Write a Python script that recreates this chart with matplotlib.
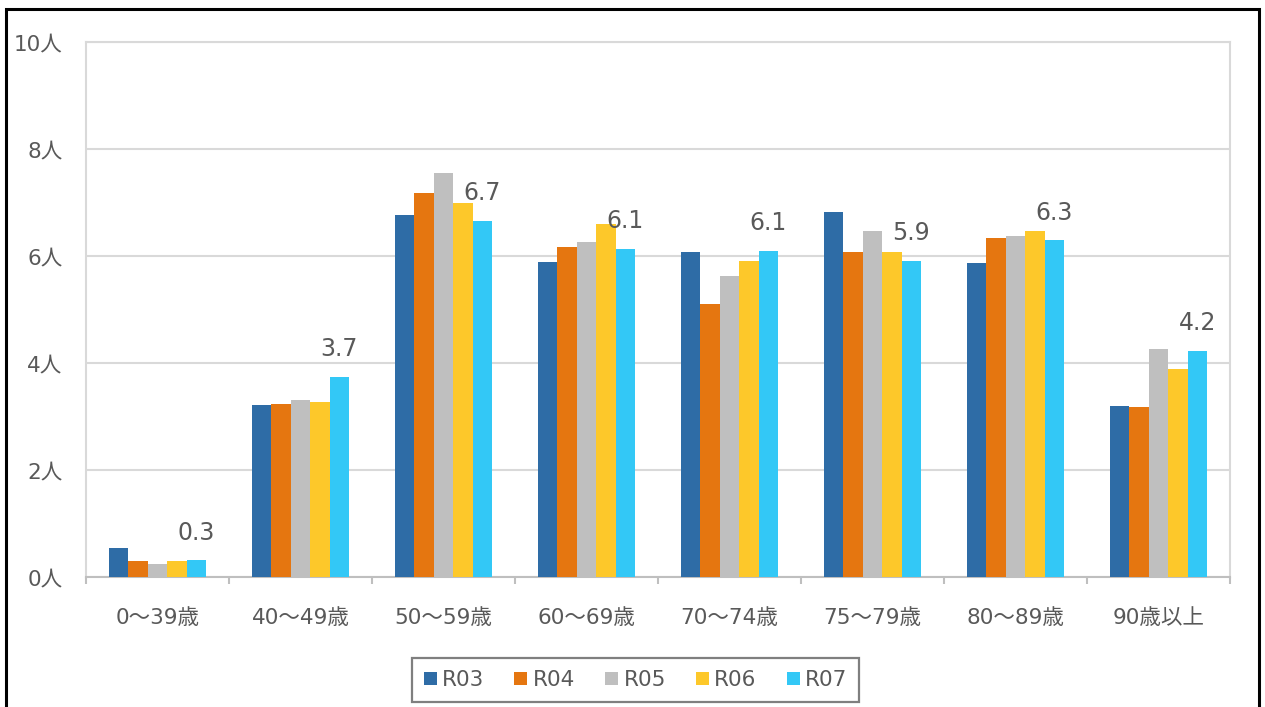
import matplotlib
matplotlib.use('Agg')
from matplotlib import pyplot as plt
from matplotlib.patches import Rectangle
import numpy as np

plt.rcParams['font.family'] = ['DejaVu Sans', 'Noto Sans CJK JP']

categories = ['0～39歳', '40～49歳', '50～59歳', '60～69歳', '70～74歳', '75～79歳', '80～89歳', '90歳以上']
series = ['R03', 'R04', 'R05', 'R06', 'R07']
r03 = [0.55, 3.21, 6.76, 5.88, 6.07, 6.83, 5.86, 3.20]
r04 = [0.29, 3.23, 7.18, 6.16, 5.10, 6.07, 6.34, 3.17]
r05 = [0.24, 3.31, 7.55, 6.26, 5.63, 6.46, 6.37, 4.27]
r06 = [0.29, 3.27, 7.00, 6.60, 5.91, 6.07, 6.46, 3.88]
r07 = [0.31, 3.74, 6.66, 6.13, 6.09, 5.91, 6.29, 4.23]
y_ticks = [0, 2, 4, 6, 8, 10]

colors = ['#2e6ca6', '#e57610', '#bfbfbf', '#fdc82a', '#33c8f6']
txt = '#595959'
grid = '#d9d9d9'

fig = plt.figure(figsize=(12.65, 7.07), dpi=100)
ax = fig.add_axes([86/1265, 130/707, 1144/1265, 535/707])

x = np.arange(len(categories))
w = 0.136
data = [r03, r04, r05, r06, r07]
for i, vals in enumerate(data):
    ax.bar(x + (i - 2) * w, vals, w, color=colors[i], label=series[i], zorder=3)

# labels above the R07 bars
for xi, v in zip(x, r07):
    ax.annotate('{:.1f}'.format(v), (xi + 2 * w, v), xytext=(0, 15),
                textcoords='offset points', ha='center', va='baseline',
                fontsize=17, color=txt)

ax.set_xlim(-0.5, len(categories) - 0.5)
ax.set_ylim(0, 10)
ax.set_yticks(y_ticks)
ax.set_yticklabels(['{}人'.format(t) for t in y_ticks])
ax.set_xticks(x)
ax.set_xticklabels(categories)
ax.set_xticks(np.arange(-0.5, len(categories)), minor=True)

ax.yaxis.grid(True, color=grid, linewidth=1.5, zorder=0)
ax.tick_params(axis='y', length=0, pad=17, labelsize=15.5, labelcolor=txt)
ax.tick_params(axis='x', which='major', length=0, pad=22, labelsize=15.5, labelcolor=txt)
ax.tick_params(axis='x', which='minor', length=5, width=1.5, color='#bfbfbf')
for s in ['left', 'right', 'top']:
    ax.spines[s].set_color(grid)
    ax.spines[s].set_linewidth(1.5)
ax.spines['bottom'].set_color('#bfbfbf')
ax.spines['bottom'].set_linewidth(1.5)

leg = fig.legend(loc='center', bbox_to_anchor=(635.5/1265, 27/707), ncol=5,
                 fontsize=15.5, handlelength=0.6, handleheight=0.6,
                 handletextpad=0.25, columnspacing=1.4, borderpad=0.55,
                 fancybox=False, framealpha=1)
leg.get_frame().set_edgecolor('#7f7f7f')
leg.get_frame().set_linewidth(1.6)
for t in leg.get_texts():
    t.set_color(txt)

# outer black frame, bottom edge outside the picture
fig.patches.append(Rectangle((6/1265, -0.05), 1253/1265, 1.05 - 9/707,
                             transform=fig.transFigure, fill=False,
                             edgecolor='black', linewidth=2.2))

fig.savefig('out.png', dpi=100)
